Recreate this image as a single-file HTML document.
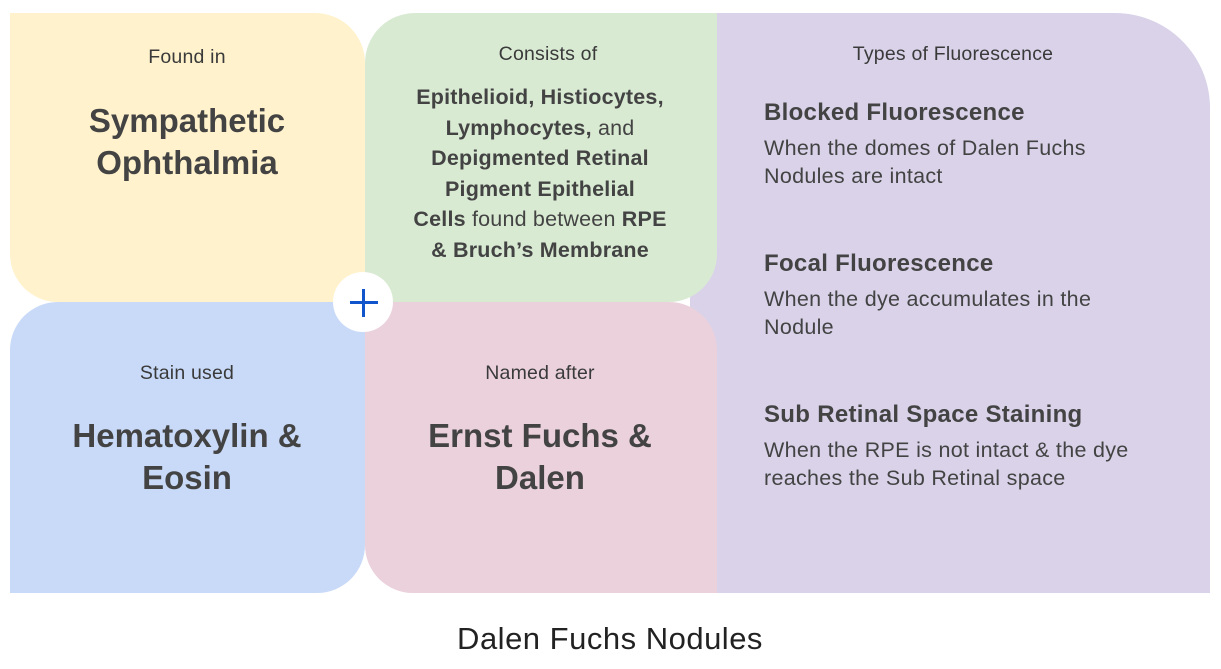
<!DOCTYPE html>
<html><head><meta charset="utf-8"><style>
body{margin:0;width:1221px;height:669px;background:#fff;position:relative;overflow:hidden;font-family:"Liberation Sans",sans-serif;color:#434343}
.b{position:absolute}
.t{position:absolute;white-space:nowrap}
.c{text-align:center;transform:translateX(-50%)}
.sm{font-size:19.5px;color:#3a3a3a;letter-spacing:0.2px}
.big{font-size:33px;font-weight:bold;line-height:42px}
.mid{font-size:21.5px;font-weight:bold;line-height:30.5px;letter-spacing:0.2px}
.h{font-size:24px;font-weight:bold;letter-spacing:0.3px}
.d{font-size:21.5px;line-height:28px;letter-spacing:0.3px}
</style></head><body>
<div class="b" style="left:690px;top:13px;width:520px;height:580px;background:#d9d2e9;border-top-right-radius:95px"></div>
<div class="b" style="left:10px;top:13px;width:355px;height:289px;background:#fff2cc;border-top-right-radius:50px;border-bottom-left-radius:48px"></div>
<div class="b" style="left:365px;top:13px;width:352px;height:289px;background:#d9ead3;border-top-left-radius:50px;border-bottom-right-radius:48px"></div>
<div class="b" style="left:10px;top:302px;width:355px;height:291px;background:#c9daf8;border-top-left-radius:48px;border-bottom-right-radius:48px"></div>
<div class="b" style="left:365px;top:302px;width:352px;height:291px;background:#ead1dc;border-top-right-radius:48px;border-bottom-left-radius:48px"></div>
<div class="b" style="left:333px;top:272px;width:60px;height:60px;border-radius:50%;background:#fff"></div>
<div class="b" style="left:350px;top:301px;width:28px;height:3px;background:#1155cc"></div>
<div class="b" style="left:362px;top:289px;width:3px;height:28px;background:#1155cc"></div>

<div class="t c sm" style="left:187px;top:46px">Found in</div>
<div class="t c big" style="left:187px;top:100px">Sympathetic<br>Ophthalmia</div>

<div class="t c sm" style="left:548px;top:43px">Consists of</div>
<div class="t c mid" style="left:540px;top:82px">Epithelioid, Histiocytes,<br>Lymphocytes, <span style="font-weight:normal">and</span><br>Depigmented Retinal<br>Pigment Epithelial<br>Cells <span style="font-weight:normal">found between</span> RPE<br>&amp; Bruch’s Membrane</div>

<div class="t c sm" style="left:187px;top:362px">Stain used</div>
<div class="t c big" style="left:187px;top:415px">Hematoxylin &amp;<br>Eosin</div>

<div class="t c sm" style="left:540px;top:362px">Named after</div>
<div class="t c big" style="left:540px;top:415px">Ernst Fuchs &amp;<br>Dalen</div>

<div class="t c sm" style="left:953px;top:43px">Types of Fluorescence</div>
<div class="t h" style="left:764px;top:99px">Blocked Fluorescence</div>
<div class="t d" style="left:764px;top:134px">When the domes of Dalen Fuchs<br>Nodules are intact</div>
<div class="t h" style="left:764px;top:250px">Focal Fluorescence</div>
<div class="t d" style="left:764px;top:285px">When the dye accumulates in the<br>Nodule</div>
<div class="t h" style="left:764px;top:401px">Sub Retinal Space Staining</div>
<div class="t d" style="left:764px;top:436px">When the RPE is not intact &amp; the dye<br>reaches the Sub Retinal space</div>

<div class="t c" style="left:610px;top:621px;font-size:31px;color:#222;letter-spacing:0.5px">Dalen Fuchs Nodules</div>
</body></html>
